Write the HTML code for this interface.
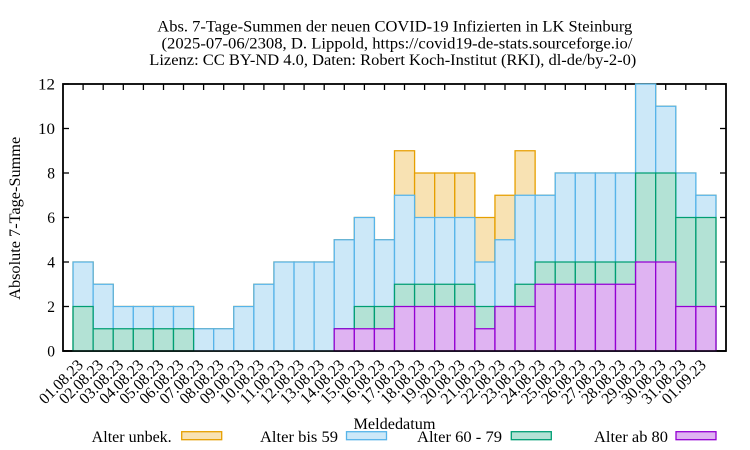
<!DOCTYPE html>
<html>
<head>
<meta charset="utf-8">
<style>
html,body{margin:0;padding:0;background:#fff;}
svg{display:block;}
text{font-family:"Liberation Serif","DejaVu Serif",serif;fill:#000;}
</style>
</head>
<body>
<svg width="750" height="450" viewBox="0 0 750 450" xmlns="http://www.w3.org/2000/svg">
<rect x="0" y="0" width="750" height="450" fill="#fff"/>

<!-- Title -->
<text x="157.3" y="31.5" font-size="15.5" textLength="475" lengthAdjust="spacingAndGlyphs">Abs. 7-Tage-Summen der neuen COVID-19 Infizierten in LK Steinburg</text>
<text x="161.5" y="48.5" font-size="15.5" textLength="471" lengthAdjust="spacingAndGlyphs">(2025-07-06/2308, D. Lippold, https://covid19-de-stats.sourceforge.io/</text>
<text x="149.3" y="65" font-size="15.5" textLength="487" lengthAdjust="spacingAndGlyphs">Lizenz: CC BY-ND 4.0, Daten: Robert Koch-Institut (RKI), dl-de/by-2-0)</text>

<!-- frame -->
<rect x="63" y="84" width="663" height="267" fill="none" stroke="#000" stroke-width="1.8"/>

<!-- y ticks -->
<g stroke="#000" stroke-width="1.3">
<line x1="63" y1="351" x2="69" y2="351"/><line x1="726" y1="351" x2="720" y2="351"/>
<line x1="63" y1="306.5" x2="69" y2="306.5"/><line x1="726" y1="306.5" x2="720" y2="306.5"/>
<line x1="63" y1="262" x2="69" y2="262"/><line x1="726" y1="262" x2="720" y2="262"/>
<line x1="63" y1="217.5" x2="69" y2="217.5"/><line x1="726" y1="217.5" x2="720" y2="217.5"/>
<line x1="63" y1="173" x2="69" y2="173"/><line x1="726" y1="173" x2="720" y2="173"/>
<line x1="63" y1="128.5" x2="69" y2="128.5"/><line x1="726" y1="128.5" x2="720" y2="128.5"/>
<line x1="63" y1="84" x2="69" y2="84"/><line x1="726" y1="84" x2="720" y2="84"/>
</g>
<!-- x ticks top -->
<g stroke="#000" stroke-width="1.3">
<line x1="83.1" y1="84" x2="83.1" y2="90"/><line x1="103.2" y1="84" x2="103.2" y2="90"/><line x1="123.3" y1="84" x2="123.3" y2="90"/><line x1="143.4" y1="84" x2="143.4" y2="90"/>
<line x1="163.5" y1="84" x2="163.5" y2="90"/><line x1="183.5" y1="84" x2="183.5" y2="90"/><line x1="203.6" y1="84" x2="203.6" y2="90"/><line x1="223.7" y1="84" x2="223.7" y2="90"/>
<line x1="243.8" y1="84" x2="243.8" y2="90"/><line x1="263.9" y1="84" x2="263.9" y2="90"/><line x1="284.0" y1="84" x2="284.0" y2="90"/><line x1="304.1" y1="84" x2="304.1" y2="90"/>
<line x1="324.2" y1="84" x2="324.2" y2="90"/><line x1="344.3" y1="84" x2="344.3" y2="90"/><line x1="364.4" y1="84" x2="364.4" y2="90"/><line x1="384.5" y1="84" x2="384.5" y2="90"/>
<line x1="404.5" y1="84" x2="404.5" y2="90"/><line x1="424.6" y1="84" x2="424.6" y2="90"/><line x1="444.7" y1="84" x2="444.7" y2="90"/><line x1="464.8" y1="84" x2="464.8" y2="90"/>
<line x1="484.9" y1="84" x2="484.9" y2="90"/><line x1="505.0" y1="84" x2="505.0" y2="90"/><line x1="525.1" y1="84" x2="525.1" y2="90"/><line x1="545.2" y1="84" x2="545.2" y2="90"/>
<line x1="565.3" y1="84" x2="565.3" y2="90"/><line x1="585.4" y1="84" x2="585.4" y2="90"/><line x1="605.5" y1="84" x2="605.5" y2="90"/><line x1="625.5" y1="84" x2="625.5" y2="90"/>
<line x1="645.6" y1="84" x2="645.6" y2="90"/><line x1="665.7" y1="84" x2="665.7" y2="90"/><line x1="685.8" y1="84" x2="685.8" y2="90"/><line x1="705.9" y1="84" x2="705.9" y2="90"/>
</g>

<!-- bars in data coordinates -->
<g transform="translate(63,351) scale(20.0909,-22.25)" stroke-width="1.3">
<!-- orange: totals -->
<g fill="#f8e2b3" stroke="#e69f00">
<rect vector-effect="non-scaling-stroke" x="0.5" y="0" width="1" height="4"/>
<rect vector-effect="non-scaling-stroke" x="1.5" y="0" width="1" height="3"/>
<rect vector-effect="non-scaling-stroke" x="2.5" y="0" width="1" height="2"/>
<rect vector-effect="non-scaling-stroke" x="3.5" y="0" width="1" height="2"/>
<rect vector-effect="non-scaling-stroke" x="4.5" y="0" width="1" height="2"/>
<rect vector-effect="non-scaling-stroke" x="5.5" y="0" width="1" height="2"/>
<rect vector-effect="non-scaling-stroke" x="6.5" y="0" width="1" height="1"/>
<rect vector-effect="non-scaling-stroke" x="7.5" y="0" width="1" height="1"/>
<rect vector-effect="non-scaling-stroke" x="8.5" y="0" width="1" height="2"/>
<rect vector-effect="non-scaling-stroke" x="9.5" y="0" width="1" height="3"/>
<rect vector-effect="non-scaling-stroke" x="10.5" y="0" width="1" height="4"/>
<rect vector-effect="non-scaling-stroke" x="11.5" y="0" width="1" height="4"/>
<rect vector-effect="non-scaling-stroke" x="12.5" y="0" width="1" height="4"/>
<rect vector-effect="non-scaling-stroke" x="13.5" y="0" width="1" height="5"/>
<rect vector-effect="non-scaling-stroke" x="14.5" y="0" width="1" height="6"/>
<rect vector-effect="non-scaling-stroke" x="15.5" y="0" width="1" height="5"/>
<rect vector-effect="non-scaling-stroke" x="16.5" y="0" width="1" height="9"/>
<rect vector-effect="non-scaling-stroke" x="17.5" y="0" width="1" height="8"/>
<rect vector-effect="non-scaling-stroke" x="18.5" y="0" width="1" height="8"/>
<rect vector-effect="non-scaling-stroke" x="19.5" y="0" width="1" height="8"/>
<rect vector-effect="non-scaling-stroke" x="20.5" y="0" width="1" height="6"/>
<rect vector-effect="non-scaling-stroke" x="21.5" y="0" width="1" height="7"/>
<rect vector-effect="non-scaling-stroke" x="22.5" y="0" width="1" height="9"/>
<rect vector-effect="non-scaling-stroke" x="23.5" y="0" width="1" height="7"/>
<rect vector-effect="non-scaling-stroke" x="24.5" y="0" width="1" height="8"/>
<rect vector-effect="non-scaling-stroke" x="25.5" y="0" width="1" height="8"/>
<rect vector-effect="non-scaling-stroke" x="26.5" y="0" width="1" height="8"/>
<rect vector-effect="non-scaling-stroke" x="27.5" y="0" width="1" height="8"/>
<rect vector-effect="non-scaling-stroke" x="28.5" y="0" width="1" height="12"/>
<rect vector-effect="non-scaling-stroke" x="29.5" y="0" width="1" height="11"/>
<rect vector-effect="non-scaling-stroke" x="30.5" y="0" width="1" height="8"/>
<rect vector-effect="non-scaling-stroke" x="31.5" y="0" width="1" height="7"/>
</g>
<!-- blue -->
<g fill="#cce8f8" stroke="#56b4e9">
<rect vector-effect="non-scaling-stroke" x="0.5" y="0" width="1" height="4"/>
<rect vector-effect="non-scaling-stroke" x="1.5" y="0" width="1" height="3"/>
<rect vector-effect="non-scaling-stroke" x="2.5" y="0" width="1" height="2"/>
<rect vector-effect="non-scaling-stroke" x="3.5" y="0" width="1" height="2"/>
<rect vector-effect="non-scaling-stroke" x="4.5" y="0" width="1" height="2"/>
<rect vector-effect="non-scaling-stroke" x="5.5" y="0" width="1" height="2"/>
<rect vector-effect="non-scaling-stroke" x="6.5" y="0" width="1" height="1"/>
<rect vector-effect="non-scaling-stroke" x="7.5" y="0" width="1" height="1"/>
<rect vector-effect="non-scaling-stroke" x="8.5" y="0" width="1" height="2"/>
<rect vector-effect="non-scaling-stroke" x="9.5" y="0" width="1" height="3"/>
<rect vector-effect="non-scaling-stroke" x="10.5" y="0" width="1" height="4"/>
<rect vector-effect="non-scaling-stroke" x="11.5" y="0" width="1" height="4"/>
<rect vector-effect="non-scaling-stroke" x="12.5" y="0" width="1" height="4"/>
<rect vector-effect="non-scaling-stroke" x="13.5" y="0" width="1" height="5"/>
<rect vector-effect="non-scaling-stroke" x="14.5" y="0" width="1" height="6"/>
<rect vector-effect="non-scaling-stroke" x="15.5" y="0" width="1" height="5"/>
<rect vector-effect="non-scaling-stroke" x="16.5" y="0" width="1" height="7"/>
<rect vector-effect="non-scaling-stroke" x="17.5" y="0" width="1" height="6"/>
<rect vector-effect="non-scaling-stroke" x="18.5" y="0" width="1" height="6"/>
<rect vector-effect="non-scaling-stroke" x="19.5" y="0" width="1" height="6"/>
<rect vector-effect="non-scaling-stroke" x="20.5" y="0" width="1" height="4"/>
<rect vector-effect="non-scaling-stroke" x="21.5" y="0" width="1" height="5"/>
<rect vector-effect="non-scaling-stroke" x="22.5" y="0" width="1" height="7"/>
<rect vector-effect="non-scaling-stroke" x="23.5" y="0" width="1" height="7"/>
<rect vector-effect="non-scaling-stroke" x="24.5" y="0" width="1" height="8"/>
<rect vector-effect="non-scaling-stroke" x="25.5" y="0" width="1" height="8"/>
<rect vector-effect="non-scaling-stroke" x="26.5" y="0" width="1" height="8"/>
<rect vector-effect="non-scaling-stroke" x="27.5" y="0" width="1" height="8"/>
<rect vector-effect="non-scaling-stroke" x="28.5" y="0" width="1" height="12"/>
<rect vector-effect="non-scaling-stroke" x="29.5" y="0" width="1" height="11"/>
<rect vector-effect="non-scaling-stroke" x="30.5" y="0" width="1" height="8"/>
<rect vector-effect="non-scaling-stroke" x="31.5" y="0" width="1" height="7"/>
</g>
<!-- green -->
<g fill="#b3e2d5" stroke="#009e73">
<rect vector-effect="non-scaling-stroke" x="0.5" y="0" width="1" height="2"/>
<rect vector-effect="non-scaling-stroke" x="1.5" y="0" width="1" height="1"/>
<rect vector-effect="non-scaling-stroke" x="2.5" y="0" width="1" height="1"/>
<rect vector-effect="non-scaling-stroke" x="3.5" y="0" width="1" height="1"/>
<rect vector-effect="non-scaling-stroke" x="4.5" y="0" width="1" height="1"/>
<rect vector-effect="non-scaling-stroke" x="5.5" y="0" width="1" height="1"/>
<rect vector-effect="non-scaling-stroke" x="13.5" y="0" width="1" height="1"/>
<rect vector-effect="non-scaling-stroke" x="14.5" y="0" width="1" height="2"/>
<rect vector-effect="non-scaling-stroke" x="15.5" y="0" width="1" height="2"/>
<rect vector-effect="non-scaling-stroke" x="16.5" y="0" width="1" height="3"/>
<rect vector-effect="non-scaling-stroke" x="17.5" y="0" width="1" height="3"/>
<rect vector-effect="non-scaling-stroke" x="18.5" y="0" width="1" height="3"/>
<rect vector-effect="non-scaling-stroke" x="19.5" y="0" width="1" height="3"/>
<rect vector-effect="non-scaling-stroke" x="20.5" y="0" width="1" height="2"/>
<rect vector-effect="non-scaling-stroke" x="21.5" y="0" width="1" height="2"/>
<rect vector-effect="non-scaling-stroke" x="22.5" y="0" width="1" height="3"/>
<rect vector-effect="non-scaling-stroke" x="23.5" y="0" width="1" height="4"/>
<rect vector-effect="non-scaling-stroke" x="24.5" y="0" width="1" height="4"/>
<rect vector-effect="non-scaling-stroke" x="25.5" y="0" width="1" height="4"/>
<rect vector-effect="non-scaling-stroke" x="26.5" y="0" width="1" height="4"/>
<rect vector-effect="non-scaling-stroke" x="27.5" y="0" width="1" height="4"/>
<rect vector-effect="non-scaling-stroke" x="28.5" y="0" width="1" height="8"/>
<rect vector-effect="non-scaling-stroke" x="29.5" y="0" width="1" height="8"/>
<rect vector-effect="non-scaling-stroke" x="30.5" y="0" width="1" height="6"/>
<rect vector-effect="non-scaling-stroke" x="31.5" y="0" width="1" height="6"/>
</g>
<!-- purple -->
<g fill="#dfb3f2" stroke="#9400d3">
<rect vector-effect="non-scaling-stroke" x="13.5" y="0" width="1" height="1"/>
<rect vector-effect="non-scaling-stroke" x="14.5" y="0" width="1" height="1"/>
<rect vector-effect="non-scaling-stroke" x="15.5" y="0" width="1" height="1"/>
<rect vector-effect="non-scaling-stroke" x="16.5" y="0" width="1" height="2"/>
<rect vector-effect="non-scaling-stroke" x="17.5" y="0" width="1" height="2"/>
<rect vector-effect="non-scaling-stroke" x="18.5" y="0" width="1" height="2"/>
<rect vector-effect="non-scaling-stroke" x="19.5" y="0" width="1" height="2"/>
<rect vector-effect="non-scaling-stroke" x="20.5" y="0" width="1" height="1"/>
<rect vector-effect="non-scaling-stroke" x="21.5" y="0" width="1" height="2"/>
<rect vector-effect="non-scaling-stroke" x="22.5" y="0" width="1" height="2"/>
<rect vector-effect="non-scaling-stroke" x="23.5" y="0" width="1" height="3"/>
<rect vector-effect="non-scaling-stroke" x="24.5" y="0" width="1" height="3"/>
<rect vector-effect="non-scaling-stroke" x="25.5" y="0" width="1" height="3"/>
<rect vector-effect="non-scaling-stroke" x="26.5" y="0" width="1" height="3"/>
<rect vector-effect="non-scaling-stroke" x="27.5" y="0" width="1" height="3"/>
<rect vector-effect="non-scaling-stroke" x="28.5" y="0" width="1" height="4"/>
<rect vector-effect="non-scaling-stroke" x="29.5" y="0" width="1" height="4"/>
<rect vector-effect="non-scaling-stroke" x="30.5" y="0" width="1" height="2"/>
<rect vector-effect="non-scaling-stroke" x="31.5" y="0" width="1" height="2"/>
</g>
</g>

<!-- bottom axis line on top -->
<line x1="63" y1="351" x2="726" y2="351" stroke="#000" stroke-width="1.8" opacity="0.85"/>

<!-- y tick labels -->
<g font-size="15.5" text-anchor="end">
<text x="55" y="356.5">0</text>
<text x="55" y="312">2</text>
<text x="55" y="267.5">4</text>
<text x="55" y="223">6</text>
<text x="55" y="178.5">8</text>
<text x="55" y="134" textLength="17" lengthAdjust="spacingAndGlyphs">10</text>
<text x="55" y="89.5" textLength="17" lengthAdjust="spacingAndGlyphs">12</text>
</g>

<!-- y label -->
<text transform="translate(20,218.3) rotate(-90)" x="0" y="0" font-size="15.5" text-anchor="middle" textLength="163" lengthAdjust="spacingAndGlyphs">Absolute 7-Tage-Summe</text>

<!-- x tick labels -->
<g font-size="16" text-anchor="end">
<text transform="translate(84.1,366) rotate(-45)" textLength="55" lengthAdjust="spacingAndGlyphs">01.08.23</text>
<text transform="translate(104.2,366) rotate(-45)" textLength="55" lengthAdjust="spacingAndGlyphs">02.08.23</text>
<text transform="translate(124.3,366) rotate(-45)" textLength="55" lengthAdjust="spacingAndGlyphs">03.08.23</text>
<text transform="translate(144.4,366) rotate(-45)" textLength="55" lengthAdjust="spacingAndGlyphs">04.08.23</text>
<text transform="translate(164.5,366) rotate(-45)" textLength="55" lengthAdjust="spacingAndGlyphs">05.08.23</text>
<text transform="translate(184.5,366) rotate(-45)" textLength="55" lengthAdjust="spacingAndGlyphs">06.08.23</text>
<text transform="translate(204.6,366) rotate(-45)" textLength="55" lengthAdjust="spacingAndGlyphs">07.08.23</text>
<text transform="translate(224.7,366) rotate(-45)" textLength="55" lengthAdjust="spacingAndGlyphs">08.08.23</text>
<text transform="translate(244.8,366) rotate(-45)" textLength="55" lengthAdjust="spacingAndGlyphs">09.08.23</text>
<text transform="translate(264.9,366) rotate(-45)" textLength="55" lengthAdjust="spacingAndGlyphs">10.08.23</text>
<text transform="translate(285.0,366) rotate(-45)" textLength="55" lengthAdjust="spacingAndGlyphs">11.08.23</text>
<text transform="translate(305.1,366) rotate(-45)" textLength="55" lengthAdjust="spacingAndGlyphs">12.08.23</text>
<text transform="translate(325.2,366) rotate(-45)" textLength="55" lengthAdjust="spacingAndGlyphs">13.08.23</text>
<text transform="translate(345.3,366) rotate(-45)" textLength="55" lengthAdjust="spacingAndGlyphs">14.08.23</text>
<text transform="translate(365.4,366) rotate(-45)" textLength="55" lengthAdjust="spacingAndGlyphs">15.08.23</text>
<text transform="translate(385.5,366) rotate(-45)" textLength="55" lengthAdjust="spacingAndGlyphs">16.08.23</text>
<text transform="translate(405.5,366) rotate(-45)" textLength="55" lengthAdjust="spacingAndGlyphs">17.08.23</text>
<text transform="translate(425.6,366) rotate(-45)" textLength="55" lengthAdjust="spacingAndGlyphs">18.08.23</text>
<text transform="translate(445.7,366) rotate(-45)" textLength="55" lengthAdjust="spacingAndGlyphs">19.08.23</text>
<text transform="translate(465.8,366) rotate(-45)" textLength="55" lengthAdjust="spacingAndGlyphs">20.08.23</text>
<text transform="translate(485.9,366) rotate(-45)" textLength="55" lengthAdjust="spacingAndGlyphs">21.08.23</text>
<text transform="translate(506.0,366) rotate(-45)" textLength="55" lengthAdjust="spacingAndGlyphs">22.08.23</text>
<text transform="translate(526.1,366) rotate(-45)" textLength="55" lengthAdjust="spacingAndGlyphs">23.08.23</text>
<text transform="translate(546.2,366) rotate(-45)" textLength="55" lengthAdjust="spacingAndGlyphs">24.08.23</text>
<text transform="translate(566.3,366) rotate(-45)" textLength="55" lengthAdjust="spacingAndGlyphs">25.08.23</text>
<text transform="translate(586.4,366) rotate(-45)" textLength="55" lengthAdjust="spacingAndGlyphs">26.08.23</text>
<text transform="translate(606.5,366) rotate(-45)" textLength="55" lengthAdjust="spacingAndGlyphs">27.08.23</text>
<text transform="translate(626.5,366) rotate(-45)" textLength="55" lengthAdjust="spacingAndGlyphs">28.08.23</text>
<text transform="translate(646.6,366) rotate(-45)" textLength="55" lengthAdjust="spacingAndGlyphs">29.08.23</text>
<text transform="translate(666.7,366) rotate(-45)" textLength="55" lengthAdjust="spacingAndGlyphs">30.08.23</text>
<text transform="translate(686.8,366) rotate(-45)" textLength="55" lengthAdjust="spacingAndGlyphs">31.08.23</text>
<text transform="translate(706.9,366) rotate(-45)" textLength="55" lengthAdjust="spacingAndGlyphs">01.09.23</text>
</g>

<!-- x label -->
<text x="353.5" y="429" font-size="15.5" textLength="82" lengthAdjust="spacingAndGlyphs">Meldedatum</text>

<!-- legend -->
<g font-size="15.5">
<text x="91.7" y="442" textLength="80" lengthAdjust="spacingAndGlyphs">Alter unbek.</text>
<rect x="181.7" y="431.7" width="40" height="8" fill="#f8e2b3" stroke="#e69f00" stroke-width="1.3"/>
<text x="260" y="442" textLength="78" lengthAdjust="spacingAndGlyphs">Alter bis 59</text>
<rect x="346.5" y="431.7" width="40" height="8" fill="#cce8f8" stroke="#56b4e9" stroke-width="1.3"/>
<text x="417" y="442" textLength="85" lengthAdjust="spacingAndGlyphs">Alter 60 - 79</text>
<rect x="511.3" y="431.7" width="40" height="8" fill="#b3e2d5" stroke="#009e73" stroke-width="1.3"/>
<text x="594" y="442" textLength="74" lengthAdjust="spacingAndGlyphs">Alter ab 80</text>
<rect x="676" y="431.7" width="40" height="8" fill="#dfb3f2" stroke="#9400d3" stroke-width="1.3"/>
</g>
</svg>
</body>
</html>
